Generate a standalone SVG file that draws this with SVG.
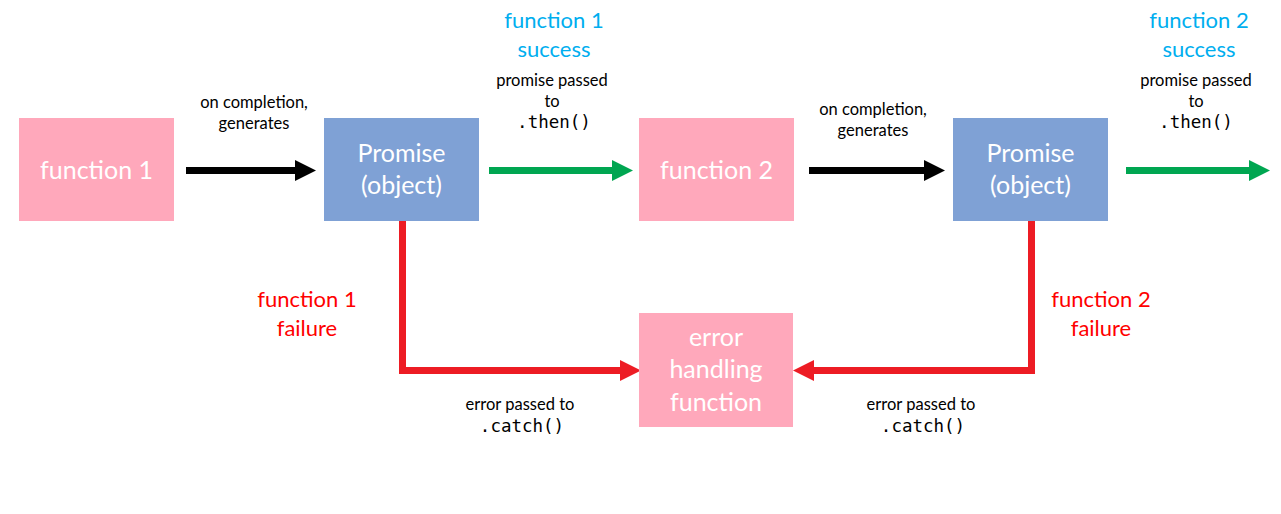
<svg xmlns="http://www.w3.org/2000/svg" width="1281" height="514" viewBox="0 0 1281 514">
<style>
.pink{fill:#FFA8BB}
.blue{fill:#7FA1D5}
.nt{font-family:Lato,"Open Sans",sans-serif;font-size:25px;fill:#fff;text-anchor:middle}
.lb{font-family:Lato,"Open Sans",sans-serif;font-size:16.5px;fill:#000;text-anchor:middle}
.mono{font-family:"DejaVu Sans Mono","Liberation Mono",monospace;font-size:17.5px;fill:#000;text-anchor:middle}
.suc{font-family:Lato,"Open Sans",sans-serif;font-size:22px;fill:#00AEEF;text-anchor:middle}
.fail{font-family:Lato,"Open Sans",sans-serif;font-size:22px;fill:#FF0000;text-anchor:middle}
.blk{stroke:#000;stroke-width:7;fill:none}
.grn{stroke:#00A651;stroke-width:7;fill:none}
.red{stroke:#ED1C24;stroke-width:7;fill:none}
</style>
<rect width="1281" height="514" fill="#fff"/>
<g id="connectors">
  <line class="blk" x1="186" y1="170.5" x2="297" y2="170.5"/>
  <polygon points="295,160 316,170.5 295,181" fill="#000"/>
  <line class="grn" x1="489" y1="170.5" x2="614" y2="170.5"/>
  <polygon points="612,160 633,170.5 612,181" fill="#00A651"/>
  <line class="blk" x1="809" y1="170.5" x2="926" y2="170.5"/>
  <polygon points="924,160 945,170.5 924,181" fill="#000"/>
  <line class="grn" x1="1126" y1="170.5" x2="1251" y2="170.5"/>
  <polygon points="1249,160 1270,170.5 1249,181" fill="#00A651"/>
  <polyline class="red" points="402.5,221 402.5,370.5 622,370.5"/>
  <polygon points="620,360 641,370.5 620,381" fill="#ED1C24"/>
  <polyline class="red" points="1031.5,221 1031.5,370.5 812,370.5"/>
  <polygon points="814,360 793,370.5 814,381" fill="#ED1C24"/>
</g>
<g id="labels">
  <text class="lb" x="254" y="108">on completion,</text>
  <text class="lb" x="254" y="129">generates</text>
  <text class="lb" x="873" y="115">on completion,</text>
  <text class="lb" x="873" y="136">generates</text>
  <text class="suc" x="554" y="28">function 1</text>
  <text class="suc" x="554" y="57">success</text>
  <text class="lb" x="552" y="86">promise passed</text>
  <text class="lb" x="552" y="107">to</text>
  <text class="mono" x="554" y="128">.then()</text>
  <text class="suc" x="1199" y="28">function 2</text>
  <text class="suc" x="1199" y="57">success</text>
  <text class="lb" x="1196" y="86">promise passed</text>
  <text class="lb" x="1196" y="107">to</text>
  <text class="mono" x="1196" y="128">.then()</text>
  <text class="fail" x="307" y="307">function 1</text>
  <text class="fail" x="307" y="336">failure</text>
  <text class="fail" x="1101" y="307">function 2</text>
  <text class="fail" x="1101" y="336">failure</text>
  <text class="lb" x="520" y="410">error passed to</text>
  <text class="mono" x="522" y="432">.catch()</text>
  <text class="lb" x="921" y="410">error passed to</text>
  <text class="mono" x="923" y="432">.catch()</text>
</g>
<g id="function1">
  <rect class="pink" x="19" y="118" width="155" height="103"/>
  <text class="nt" x="96.5" y="179">function 1</text>
</g>
<g id="promise1">
  <rect class="blue" x="324" y="118" width="155" height="103"/>
  <text class="nt" x="401.5" y="162">Promise</text>
  <text class="nt" x="401.5" y="194">(object)</text>
</g>
<g id="function2">
  <rect class="pink" x="639" y="118" width="155" height="103"/>
  <text class="nt" x="716.5" y="179">function 2</text>
</g>
<g id="promise2">
  <rect class="blue" x="953" y="118" width="155" height="103"/>
  <text class="nt" x="1030.5" y="162">Promise</text>
  <text class="nt" x="1030.5" y="194">(object)</text>
</g>
<g id="errorHandler">
  <rect class="pink" x="639" y="313" width="154" height="114"/>
  <text class="nt" x="716" y="346">error</text>
  <text class="nt" x="716" y="378">handling</text>
  <text class="nt" x="716" y="411">function</text>
</g>
</svg>
